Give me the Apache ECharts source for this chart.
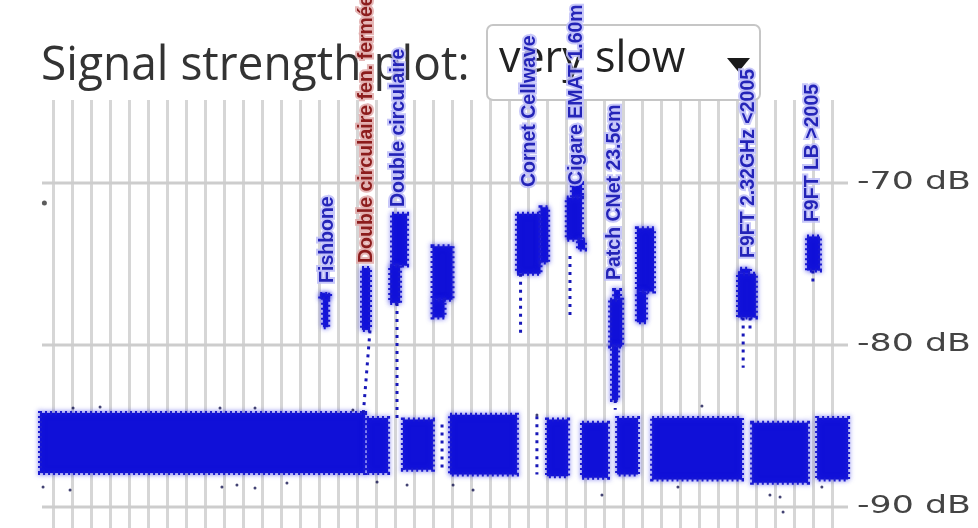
<!DOCTYPE html>
<html><head><meta charset="utf-8">
<script src="https://cdn.jsdelivr.net/npm/echarts@6/dist/echarts.min.js"></script>
<style>html,body{margin:0;padding:0;background:#fff}#c{width:978px;height:528px}</style>
</head><body><div id="c"></div>
<script>
// ---- data (x: time index, one unit per vertical grid line; y: dB) ----
const yTicks = [-70, -80, -90];
const yTickLabels = ['-70 dB', '-80 dB', '-90 dB'];
// noise floor blocks: [xStart, xEnd, highDb, lowDb]
const noiseFloor = [
  [-0.71, 16.39, -84.2, -87.9],
  [16.49, 17.60, -84.5, -87.9],
  [18.38, 19.96, -84.6, -87.7],
  [20.86, 24.38, -84.3, -88.0],
  [25.96, 27.07, -84.6, -88.1],
  [27.80, 29.17, -84.8, -88.2],
  [29.65, 30.75, -84.5, -88.0],
  [31.49, 36.22, -84.5, -88.3],
  [36.75, 39.69, -84.8, -88.5],
  [40.17, 41.80, -84.5, -88.3]
];
// antenna signal clusters: [xStart, xEnd, highDb, lowDb]
const signalCores = [
  [14.18, 14.45, -76.9, -78.9], [14.03, 14.55, -76.85, -77.15],
  [16.23, 16.65, -75.25, -79.07],
  [17.81, 18.60, -71.9, -75.1], [17.71, 18.23, -75.1, -77.4],
  [19.94, 20.99, -73.9, -77.2], [19.94, 20.57, -77.2, -78.3],
  [24.38, 25.62, -71.9, -75.6], [25.62, 26.02, -71.5, -74.9],
  [27.27, 27.80, -70.0, -70.9], [27.00, 27.80, -70.9, -73.5], [27.59, 27.96, -73.5, -74.1],
  [29.49, 29.80, -76.6, -77.2], [29.28, 29.91, -77.2, -80.1], [29.38, 29.70, -80.1, -83.4],
  [30.69, 31.59, -72.8, -76.7], [30.69, 31.17, -76.7, -78.6],
  [36.12, 36.64, -75.3, -75.6], [36.01, 36.95, -75.6, -78.3],
  [39.64, 40.32, -73.3, -75.4]
];
// sparse dotted traces: [xTop, highDb, xBottom, lowDb]
const sparseTraces = [
  [16.65, -79.1, 16.30, -84.2],
  [18.07, -77.4, 18.07, -84.6],
  [20.44, -84.9, 20.44, -87.7],
  [24.57, -75.6, 24.57, -79.5],
  [25.43, -84.4, 25.43, -88.0],
  [27.17, -74.5, 27.17, -78.3],
  [29.55, -83.4, 29.55, -84.0],
  [36.28, -78.3, 36.28, -81.4],
  [36.64, -78.3, 36.64, -79.0],
  [39.95, -75.4, 39.95, -76.1]
];
// isolated points
const outliers = [
  [-0.55, -88.77], [0.87, -88.95], [8.86, -88.77], [9.65, -88.64], [10.60, -88.83],
  [12.28, -88.52], [17.02, -88.46], [18.60, -88.64], [21.02, -88.64], [22.07, -88.95],
  [28.85, -89.26], [32.85, -88.77], [37.69, -89.26], [38.22, -89.38], [38.38, -90.31],
  [40.42, -88.77], [1.03, -83.89], [2.45, -83.83], [8.76, -83.89], [10.60, -83.89],
  [15.75, -84.01], [34.11, -83.77], [25.43, -84.32]
];
const strayDot = [[-0.48, -71.23]];
// antenna annotations
const antennaNames = ['Fishbone', 'Double circulaire fen. fermée', 'Double circulaire', 'Cornet Cellwave',
  'Cigare EMAT 1.60m', 'Patch CNet 23.5cm', 'F9FT 2.32GHz <2005', 'F9FT LB >2005'];
const antennaLabelPos = [[14.41, -76.17], [16.49, -74.94], [18.17, -71.48], [25.04, -70.25],
  [27.54, -70.12], [29.54, -75.99], [36.59, -74.63], [39.93, -72.41]];
const antennaHighlighted = [false, true, false, false, false, false, false, false];

const X_MIN = -0.605, X_MAX = 41.795;
const Y_MIN = -90.5, Y_MAX = -60;
const chart = echarts.init(document.getElementById('c'), null, {renderer: 'canvas'});
const BLUE = '#1010d8';

function rectItem(params, api) {
  const a = api.coord([api.value(0), api.value(2)]);
  const b = api.coord([api.value(1), api.value(3)]);
  return {type: 'rect', shape: {x: a[0], y: a[1], width: b[0] - a[0], height: b[1] - a[1]},
    style: {fill: BLUE, stroke: '#1a1ad0', lineWidth: 4, lineDash: [2, 3],
      shadowBlur: 5, shadowColor: 'rgba(30,30,230,0.7)'}};
}

chart.setOption({
  backgroundColor: '#fff',
  animation: false,
  grid: [
    {left: 42, right: 130, top: 21, bottom: 12.9},
    {left: 53.5, right: 145.5, top: 100, bottom: 0}
  ],
  xAxis: [
    {gridIndex: 0, type: 'value', min: X_MIN, max: X_MAX, show: false},
    {gridIndex: 1, type: 'value', min: 0, max: 41, interval: 1,
      axisLine: {show: false}, axisTick: {show: false}, axisLabel: {show: false},
      splitLine: {show: true, lineStyle: {color: '#d6d6d6', width: 3}}}
  ],
  yAxis: [
    {gridIndex: 0, type: 'value', min: Y_MIN, max: Y_MAX, show: false},
    {gridIndex: 1, type: 'value', min: 0, max: 1, show: false}
  ],
  graphic: [
    {type: 'text', x: 41, y: 66, z: 1, scaleX: 0.96, style: {text: 'Signal strength plot:', font: '48px "Open Sans"', fill: '#333', verticalAlign: 'middle'}},
    {type: 'rect', z: 1, shape: {x: 487, y: 25, width: 273, height: 75, r: 6}, style: {fill: '#fff', stroke: '#c6c6c6', lineWidth: 2}},
    {type: 'text', x: 499, y: 60, z: 1, style: {text: 'very slow', font: '43px "Open Sans"', fill: '#222', verticalAlign: 'middle'}},
    {type: 'polygon', z: 1, shape: {points: [[727, 58], [750, 58], [738.5, 72]]}, style: {fill: '#1a1a1a'}}
  ],
  series: [
    // horizontal dB grid lines
    {type: 'custom', xAxisIndex: 0, yAxisIndex: 0, clip: false, z: 1, silent: true,
      data: yTicks.map(v => [X_MIN, X_MAX, v]),
      renderItem: (params, api) => {
        const a = api.coord([api.value(0), api.value(2)]);
        const b = api.coord([api.value(1), api.value(2)]);
        return {type: 'line', shape: {x1: a[0], y1: a[1], x2: b[0], y2: b[1]},
          style: {stroke: '#cdcdcd', lineWidth: 3}};
      }},
    {type: 'custom', xAxisIndex: 0, yAxisIndex: 0, clip: false, z: 2, data: noiseFloor, renderItem: rectItem},
    {type: 'custom', xAxisIndex: 0, yAxisIndex: 0, clip: false, z: 2, data: signalCores, renderItem: rectItem},
    {type: 'custom', xAxisIndex: 0, yAxisIndex: 0, clip: false, z: 2, data: sparseTraces,
      renderItem: (params, api) => {
        const a = api.coord([api.value(0), api.value(1)]);
        const b = api.coord([api.value(2), api.value(3)]);
        return {type: 'line', shape: {x1: a[0], y1: a[1], x2: b[0], y2: b[1]},
          style: {stroke: '#1818b8', lineWidth: 3, lineDash: [3, 5]}};
      }},
    {type: 'scatter', xAxisIndex: 0, yAxisIndex: 0, clip: false, z: 3, data: outliers, symbolSize: 3,
      itemStyle: {color: '#141450'}},
    {type: 'scatter', xAxisIndex: 0, yAxisIndex: 0, clip: false, z: 3, data: strayDot, symbolSize: 5,
      itemStyle: {color: '#333'}},
    {type: 'custom', xAxisIndex: 0, yAxisIndex: 0, clip: false, z: 10, data: antennaLabelPos,
      renderItem: (params, api) => {
        const p = api.coord([api.value(0), api.value(1)]);
        const hl = antennaHighlighted[params.dataIndex];
        return {type: 'text', x: p[0], y: p[1], rotation: Math.PI / 2,
          style: {text: antennaNames[params.dataIndex], font: 'bold 19.5px "Liberation Sans"',
            fill: hl ? '#8c1c1c' : '#2424b8', align: 'left', verticalAlign: 'middle',
            stroke: hl ? 'rgba(225,170,170,0.85)' : 'rgba(190,190,248,0.85)', lineWidth: 4}};
      }},
    {type: 'custom', xAxisIndex: 0, yAxisIndex: 0, clip: false, z: 10,
      data: yTicks.map(v => [X_MAX, v]),
      renderItem: (params, api) => {
        const p = api.coord([api.value(0), api.value(1)]);
        return {type: 'text', x: p[0] + 9, y: p[1], scaleX: 1.45,
          style: {text: yTickLabels[params.dataIndex], font: '24px "DejaVu Sans"', fill: '#444',
            align: 'left', verticalAlign: 'middle'}};
      }}
  ]
});
</script></body></html>
